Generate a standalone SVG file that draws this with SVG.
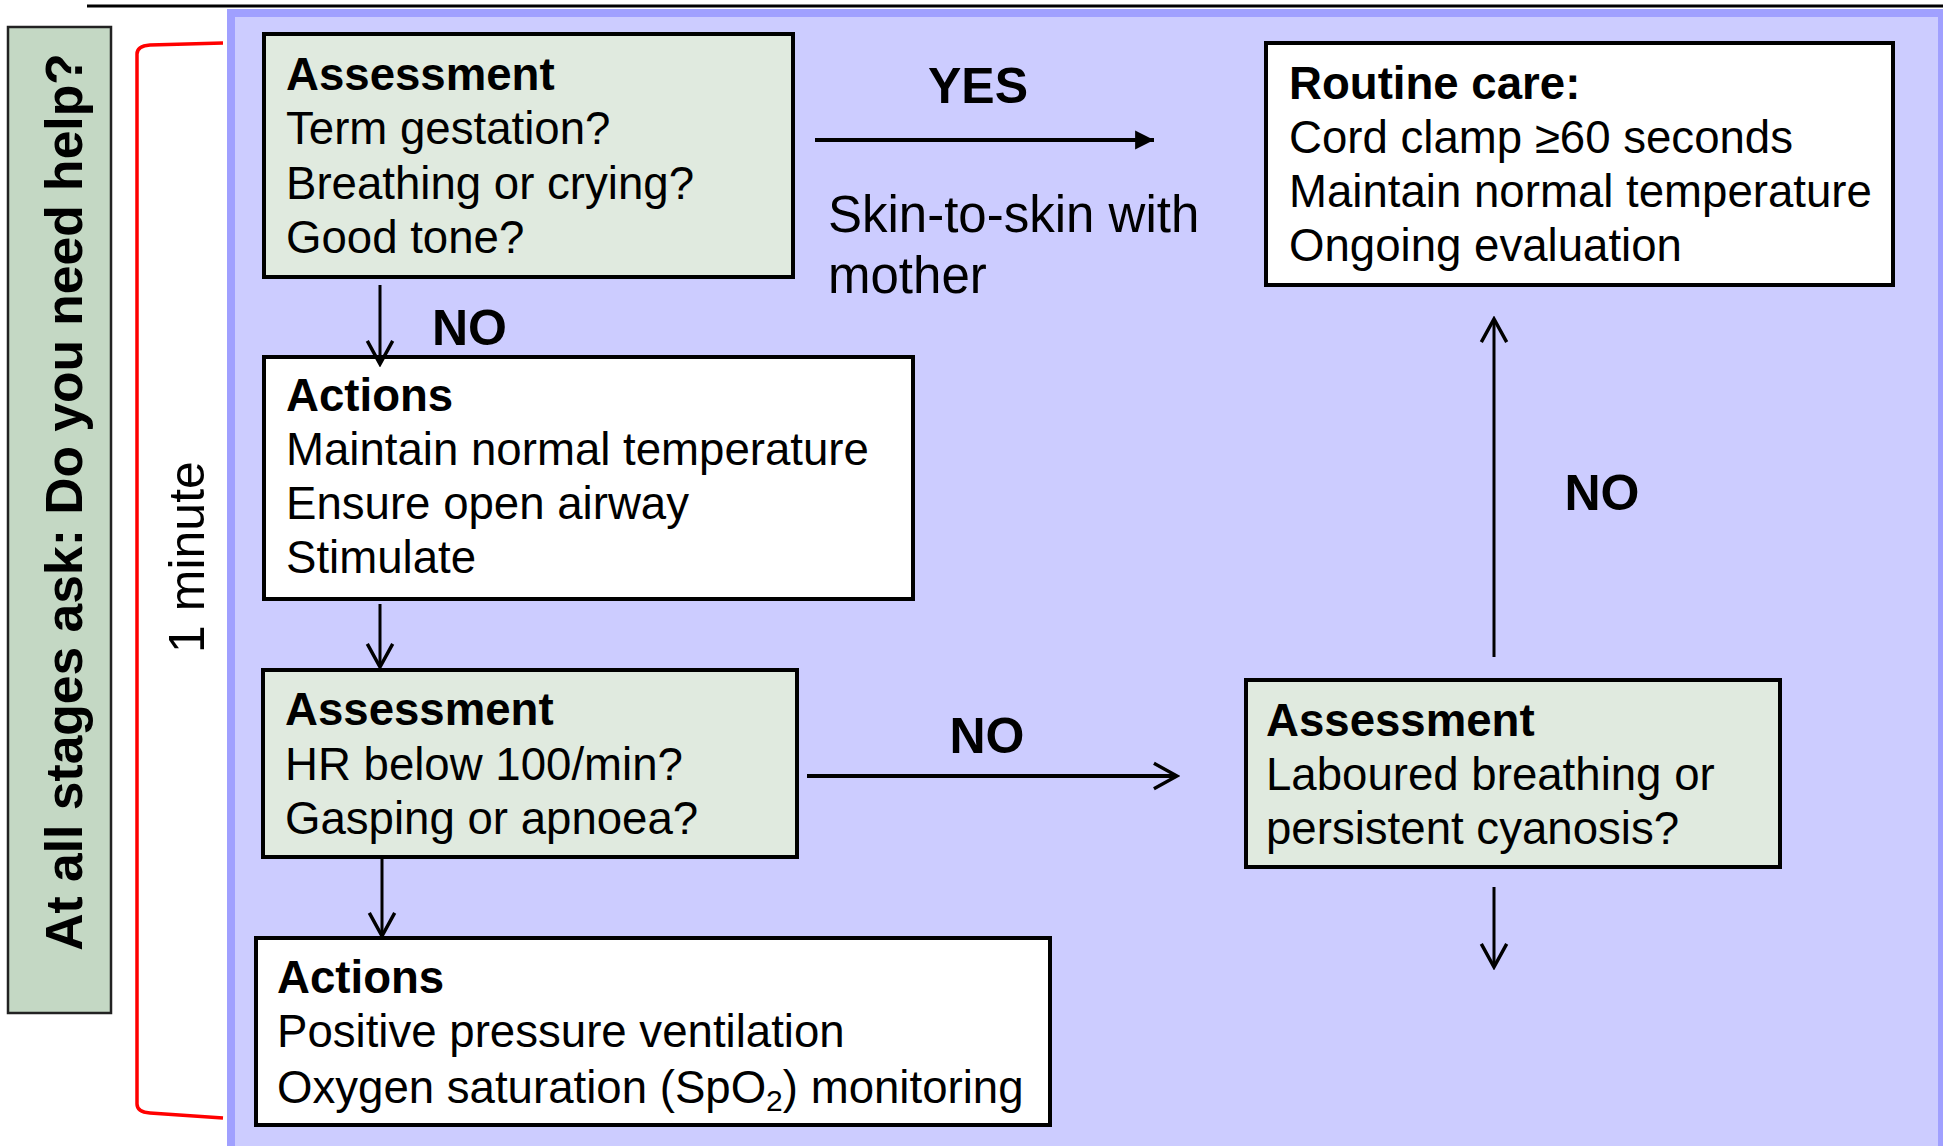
<svg xmlns="http://www.w3.org/2000/svg" width="1943" height="1146" viewBox="0 0 1943 1146">
<style>
text{font-family:"Liberation Sans",Arial,sans-serif;fill:#000}
.t{font-size:45.6px}
.b{font-weight:bold}
.lbl{font-size:50px;font-weight:bold}
.box{stroke:#000;stroke-width:4}
.g{fill:#E0EADF}
.w{fill:#fff}
.c{stroke:#000;stroke-width:3;fill:none}
</style>
<defs>
<marker id="open" markerUnits="userSpaceOnUse" markerWidth="30" markerHeight="30" viewBox="0 0 26 26" refX="23" refY="13" orient="auto">
<path d="M3,2 L23,13 L3,24" fill="none" stroke="#000" stroke-width="3"/>
</marker>
<marker id="fill" markerUnits="userSpaceOnUse" markerWidth="20" markerHeight="20" viewBox="0 0 18 18" refX="17" refY="9" orient="auto">
<path d="M0,0.5 L17,9 L0,17.5 z" fill="#000"/>
</marker>
</defs>
<rect width="1943" height="1146" fill="#fff"/>
<line x1="87" y1="6" x2="1943" y2="6" stroke="#000" stroke-width="3"/>
<rect id="panel" x="231" y="13" width="1711" height="1200" fill="#CCCCFF" stroke="#A0A0FF" stroke-width="8"/>
<g id="side">
<rect x="8" y="27" width="103" height="986" fill="#C4D8C4" stroke="#222" stroke-width="2.5"/>
<text class="b" font-size="51.6" text-anchor="middle" transform="translate(82,502) rotate(-90)">At all stages ask: Do you need help?</text>
</g>
<g id="bracket">
<path d="M223,43 L150,45 Q137,46 137,54 L137,1104 Q137,1112 150,1113 L223,1118" fill="none" stroke="#FF0000" stroke-width="3.5"/>
<text font-size="50" text-anchor="middle" transform="translate(204,557) rotate(-90)">1 minute</text>
</g>
<g id="assess1">
<rect class="box g" x="264" y="34" width="529" height="243"/>
<text class="t b" x="286" y="90">Assessment</text>
<text class="t" x="286" y="144">Term gestation?</text>
<text class="t" x="286" y="199">Breathing or crying?</text>
<text class="t" x="286" y="253">Good tone?</text>
</g>
<g id="actions1">
<rect class="box w" x="264" y="357" width="649" height="242"/>
<text class="t b" x="286" y="411">Actions</text>
<text class="t" x="286" y="465">Maintain normal temperature</text>
<text class="t" x="286" y="519">Ensure open airway</text>
<text class="t" x="286" y="573">Stimulate</text>
</g>
<g id="assess2">
<rect class="box g" x="263" y="670" width="534" height="187"/>
<text class="t b" x="285" y="725">Assessment</text>
<text class="t" x="285" y="780">HR below 100/min?</text>
<text class="t" x="285" y="834">Gasping or apnoea?</text>
</g>
<g id="actions2">
<rect class="box w" x="256" y="938" width="794" height="187"/>
<text class="t b" x="277" y="993">Actions</text>
<text class="t" x="277" y="1047">Positive pressure ventilation</text>
<text class="t" x="277" y="1103">Oxygen saturation (SpO<tspan font-size="30" dy="8">2</tspan><tspan dy="-8">) monitoring</tspan></text>
</g>
<g id="routine">
<rect class="box w" x="1266" y="43" width="627" height="242"/>
<text class="t b" x="1289" y="99">Routine care:</text>
<text class="t" x="1289" y="153">Cord clamp ≥60 seconds</text>
<text class="t" x="1289" y="207">Maintain normal temperature</text>
<text class="t" x="1289" y="261">Ongoing evaluation</text>
</g>
<g id="assess3">
<rect class="box g" x="1246" y="680" width="534" height="187"/>
<text class="t b" x="1266" y="736">Assessment</text>
<text class="t" x="1266" y="790">Laboured breathing or</text>
<text class="t" x="1266" y="844">persistent cyanosis?</text>
</g>
<g id="connectors">
<line x1="815" y1="140" x2="1154" y2="140" stroke="#000" stroke-width="4" marker-end="url(#fill)"/>
<line class="c" x1="380" y1="285" x2="380" y2="364" marker-end="url(#open)"/>
<line class="c" x1="380" y1="604" x2="380" y2="667" marker-end="url(#open)"/>
<line class="c" x1="382" y1="859" x2="382" y2="936" marker-end="url(#open)"/>
<line x1="807" y1="776" x2="1177" y2="776" stroke="#000" stroke-width="4" marker-end="url(#open)"/>
<line class="c" x1="1494" y1="657" x2="1494" y2="319" marker-end="url(#open)"/>
<line class="c" x1="1494" y1="887" x2="1494" y2="967" marker-end="url(#open)"/>
</g>
<g id="labels">
<text class="lbl" x="978" y="103" text-anchor="middle">YES</text>
<text font-size="51" x="828" y="232">Skin-to-skin with</text>
<text font-size="51" x="828" y="293">mother</text>
<text class="lbl" x="432" y="345">NO</text>
<text class="lbl" x="987" y="753" text-anchor="middle">NO</text>
<text class="lbl" x="1602" y="510" text-anchor="middle">NO</text>
</g>
</svg>
